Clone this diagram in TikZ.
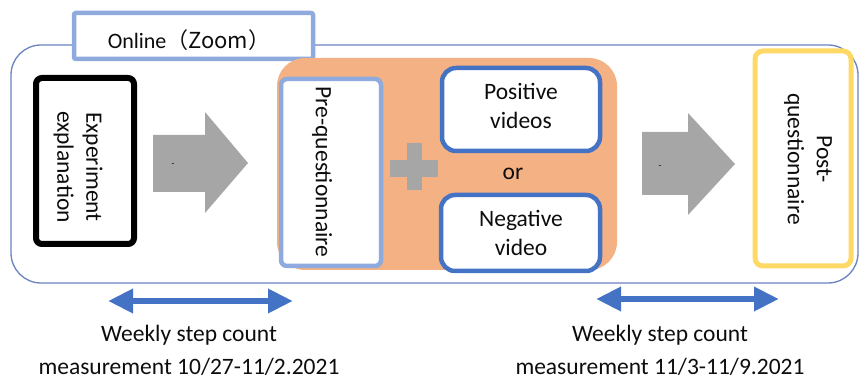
\documentclass[tikz,border=0pt]{standalone}
\usepackage{fontspec}
\setmainfont{Carlito}
\newfontfamily\cjk{Noto Sans CJK SC}
\usetikzlibrary{arrows.meta}
\definecolor{frameblue}{HTML}{6A82C0}
\definecolor{lightblue}{HTML}{8FAADC}
\definecolor{darkblue}{HTML}{4472C4}
\definecolor{peach}{HTML}{F4B183}
\definecolor{arrowgray}{HTML}{A6A6A6}
\definecolor{gold}{HTML}{FFD966}
\tikzset{
  txt/.style={font=\fontsize{23.5}{29}\selectfont, text=black!95, align=center, inner sep=0pt},
  vtxt/.style={txt, rotate=-90},
  boxwhite/.style={fill=white},
  stepcount/.style={draw=darkblue, line width=6.5pt, {Triangle[length=25pt,width=23pt]}-{Triangle[length=25pt,width=23pt]}},
  tick/.style={font=\fontsize{9}{9}\selectfont, inner sep=0pt}
}
\begin{document}
\begin{tikzpicture}[x=1pt,y=-1pt]
\useasboundingbox (0,0) rectangle (865,379);

% outer online frame
\draw[frameblue, line width=1.3pt, rounded corners=30pt] (11,45) rectangle (858,283);

% "Online (Zoom)" tab
\draw[lightblue, line width=4.5pt, fill=white, rounded corners=2pt] (74,13) rectangle (313,59);
\node[txt, font=\fontsize{22}{26}\selectfont] (online) at (189,40) {Online\cjk{（}Zoom\cjk{）}};

% experiment explanation
\draw[black, line width=6pt, boxwhite, rounded corners=6pt] (36,78) rectangle (134,244);
\node[vtxt] (expl) at (78,167) {Experiment\\explanation};

% gray block arrow 1
\fill[arrowgray] (153,135) -- (205,135) -- (205,112) -- (248,163) -- (205,213) -- (205,192) -- (153,192) -- cycle;
\node[tick] (t1) at (173,165) {-};

% intervention block
\fill[peach, rounded corners=28pt] (277,58) rectangle (617,270);
\draw[lightblue, line width=4.5pt, boxwhite, rounded corners=6pt] (281,79) rectangle (381,266);
\node[vtxt] (pre) at (322,172) {Pre-questionnaire};

% plus sign
\fill[arrowgray] (390,160) rectangle (438,177);
\fill[arrowgray] (407,143) rectangle (422,190);

\draw[darkblue, line width=4.5pt, boxwhite, rounded corners=14pt] (442,68) rectangle (600,151);
\node[txt] (pos) at (521,106) {Positive\\videos};
\node[txt] (or) at (513,174) {or};
\draw[darkblue, line width=4.5pt, boxwhite, rounded corners=14pt] (441,195) rectangle (600,271);
\node[txt] (neg) at (521,233) {Negative\\video};

% gray block arrow 2
\fill[arrowgray] (642,132) -- (688,132) -- (688,113) -- (735,164) -- (688,215) -- (688,195) -- (642,195) -- cycle;
\node[tick] (t2) at (660,167) {-};

% post-questionnaire
\draw[gold, line width=5pt, boxwhite, rounded corners=8pt] (755,51) rectangle (851,266);
\node[vtxt] (post) at (808,159) {Post-\\questionnaire};

% weekly step count measurements
\coordinate (m1a) at (108,301);
\coordinate (m1b) at (293,301);
\coordinate (m2a) at (596,299);
\coordinate (m2b) at (779,299);
\draw[stepcount] (m1a) -- (m1b);
\draw[stepcount] (m2a) -- (m2b);
\node[txt] (w1) at (189,335) {Weekly step count};
\node[txt] (d1) at (189,367) {measurement 10/27-11/2.2021};
\node[txt] (w2) at (660,335) {Weekly step count};
\node[txt] (d2) at (660,367) {measurement 11/3-11/9.2021};
\end{tikzpicture}
\end{document}
